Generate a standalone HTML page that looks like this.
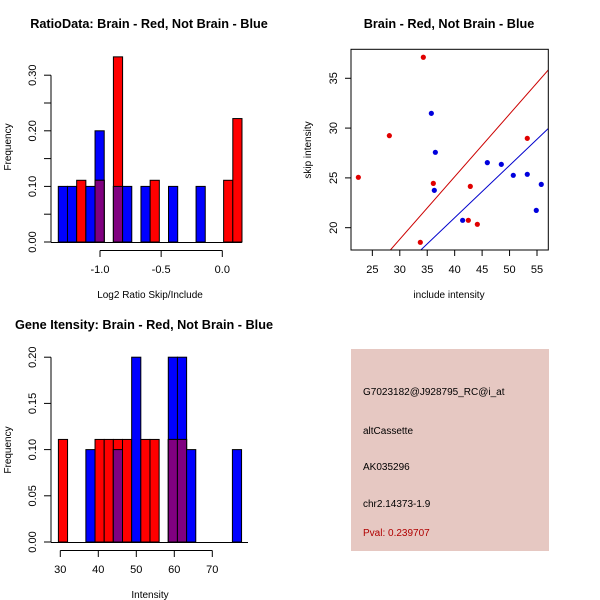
<!DOCTYPE html>
<html><head><meta charset="utf-8"><style>
body{margin:0;background:#fff}
svg{display:block;font-family:"Liberation Sans",sans-serif}
</style></head><body>
<svg id="c" width="600" height="600" xmlns="http://www.w3.org/2000/svg"></svg>
<script>
// Panel 1: ratio histogram
const ratioBinStart = -1.341, ratioBinWidth = 0.0751;
const ratioBlue = [0.1,0.1,0,0.1,0.2,0,0.1,0.1,0,0.1,0,0,0.1,0,0,0.1,0,0,0,0];
const ratioRed  = [0,0,0.111,0,0.111,0,0.333,0,0,0,0.111,0,0,0,0,0,0,0,0.111,0.222];
const ratioXTicks = [-1.0,-0.5,0.0];
const ratioXLabels = ["-1.0","-0.5","0.0"];
const ratioYTicks = [0,0.05,0.1,0.15,0.2,0.25,0.3];
const ratioYLabels = ["0.00","","0.10","","0.20","","0.30"];
// Panel 3: intensity histogram
const intBinStart = 29.5, intBinWidth = 2.41;
const intBlue = [0,0,0,0.1,0,0,0.1,0,0.2,0,0,0,0.2,0.2,0.1,0,0,0,0,0.1];
const intRed  = [0.111,0,0,0,0.111,0.111,0.111,0.111,0,0.111,0.111,0,0.111,0.111,0,0,0,0,0,0];
const intXTicks = [30,40,50,60,70];
const intYTicks = [0,0.05,0.1,0.15,0.2];
const intYLabels = ["0.00","0.05","0.10","0.15","0.20"];
// Panel 2: scatter
const redInclude = [22.45,28.1,34.29,33.74,36.11,42.85,42.49,44.13,53.23];
const redSkip    = [25.06,29.24,37.11,18.53,24.45,24.15,20.74,20.34,28.97];
const blueInclude = [35.75,36.48,36.29,41.45,45.95,48.5,50.68,53.23,55.78,54.87];
const blueSkip    = [31.48,27.57,23.75,20.74,26.53,26.36,25.26,25.36,24.35,21.74];
const redSlope = 0.628, blueSlope = 0.525;
const scXTicks = [25,30,35,40,45,50,55];
const scYTicks = [20,25,30,35];

const svg = document.getElementById('c');
const NS = 'http://www.w3.org/2000/svg';
function mk(tag, attrs, name, parent){
  const e = document.createElementNS(NS, tag);
  for (const k in attrs) e.setAttribute(k, attrs[k]);
  
  
  (parent||svg).appendChild(e); return e;
}
function txt(x,y,s,name,opts){
  opts=opts||{};
  const a={x:x,y:y,'font-size':opts.size||11,'text-anchor':opts.anchor||'middle',fill:opts.fill||'#000'};
  if(opts.bold) a['font-weight']='bold';
  if(opts.rot) a.transform='rotate(-90 '+x+' '+y+')';
  const t=mk('text',a,name); t.textContent=s; return t;
}
function hist(g, start, w, blue, red, xs, ys, prefix){
  for(let i=0;i<blue.length;i++){
    const x0=xs(start+i*w), x1=xs(start+(i+1)*w);
    const b=blue[i], r=red[i];
    if(b>0){const e=mk('rect',{x:x0,y:ys(b),width:x1-x0,height:ys(0)-ys(b),fill:'#0000ff',stroke:'#000','stroke-width':1},'bar-blue',g);}
    if(r>0){const e=mk('rect',{x:x0,y:ys(r),width:x1-x0,height:ys(0)-ys(r),fill:'#ff0000',stroke:'#000','stroke-width':1},'bar-red',g);}
    if(b>0&&r>0){const m=Math.min(b,r);const e=mk('rect',{x:x0,y:ys(m),width:x1-x0,height:ys(0)-ys(m),fill:'#800080',stroke:'#000','stroke-width':1},'bar-overlap',g);}
  }
}

// ---- Panel 1
{
  const xs=v=>100+(v+1)*122.3, ys=v=>242-v*556;
  const g=mk('g',{},'ratio-histogram');
  hist(g,ratioBinStart,ratioBinWidth,ratioBlue,ratioRed,xs,ys,'ratio');
  mk('line',{x1:51,x2:51,y1:ys(0),y2:ys(0.3),stroke:'#000'},'ratio-y-axis');
  mk('line',{x1:51,x2:xs(0.16),y1:ys(0)+0.5,y2:ys(0)+0.5,stroke:'#000'},'ratio-baseline');
  ratioYTicks.forEach((v,i)=>{mk('line',{x1:44,x2:51,y1:ys(v),y2:ys(v),stroke:'#000'},'ratio-y-tick');
    if(ratioYLabels[i]) txt(36,ys(v),ratioYLabels[i],'ratio-y-tick-label',{rot:1});});
  mk('line',{x1:xs(-1),x2:xs(0),y1:250.5,y2:250.5,stroke:'#000'},'ratio-x-axis');
  ratioXTicks.forEach((v,i)=>{mk('line',{x1:xs(v),x2:xs(v),y1:250.5,y2:257,stroke:'#000'},'ratio-x-tick');
    txt(xs(v),273,ratioXLabels[i],'ratio-x-tick-label');});
  txt(149,28,'RatioData: Brain - Red, Not Brain - Blue','ratio-title',{bold:1,size:12.7});
  txt(150,298,'Log2 Ratio Skip/Include','ratio-x-title',{size:10});
  txt(11,147,'Frequency','ratio-y-title',{size:10,rot:1});
}
// ---- Panel 2
{
  const xs=v=>351+(v-21.11)*(197.3/35.95), ys=v=>250-(v-17.76)*(200.7/20.15);
  const g=mk('g',{},'scatter-plot');
  mk('clipPath',{id:'clp'},'scatter-clip',g);
  document.getElementById('clp').appendChild(mk('rect',{x:351,y:49.3,width:197.3,height:200.7},'clip-rect',g));
  mk('line',{x1:xs(21.11),y1:ys(21.11*redSlope),x2:xs(57.06),y2:ys(57.06*redSlope),stroke:'#cc0000','clip-path':'url(#clp)'},'red-fit-line',g);
  mk('line',{x1:xs(21.11),y1:ys(21.11*blueSlope),x2:xs(57.06),y2:ys(57.06*blueSlope),stroke:'#0000cc','clip-path':'url(#clp)'},'blue-fit-line',g);
  redInclude.forEach((v,i)=>mk('circle',{cx:xs(v),cy:ys(redSkip[i]),r:2.6,fill:'#e00000'},'red-point',g));
  blueInclude.forEach((v,i)=>mk('circle',{cx:xs(v),cy:ys(blueSkip[i]),r:2.6,fill:'#0000dd'},'blue-point',g));
  mk('rect',{x:351,y:49.3,width:197.3,height:200.7,fill:'none',stroke:'#000'},'scatter-frame');
  scXTicks.forEach(v=>{mk('line',{x1:xs(v),x2:xs(v),y1:250,y2:256,stroke:'#000'},'scatter-x-tick');txt(xs(v),273,String(v),'scatter-x-tick-label');});
  scYTicks.forEach(v=>{mk('line',{x1:345,x2:351,y1:ys(v),y2:ys(v),stroke:'#000'},'scatter-y-tick');txt(337,ys(v),String(v),'scatter-y-tick-label',{rot:1});});
  txt(449,28,'Brain - Red, Not Brain - Blue','scatter-title',{bold:1,size:12.7});
  txt(449,298,'include intensity','scatter-x-title',{size:10});
  txt(311,150,'skip intensity','scatter-y-title',{size:10,rot:1});
}
// ---- Panel 3
{
  const xs=v=>60.3+(v-30)*3.8, ys=v=>542-v*924;
  const g=mk('g',{},'intensity-histogram');
  hist(g,intBinStart,intBinWidth,intBlue,intRed,xs,ys,'intensity');
  mk('line',{x1:51,x2:51,y1:ys(0),y2:ys(0.2),stroke:'#000'},'intensity-y-axis');
  mk('line',{x1:51,x2:248,y1:ys(0)+0.5,y2:ys(0)+0.5,stroke:'#000'},'intensity-baseline');
  intYTicks.forEach((v,i)=>{mk('line',{x1:44,x2:51,y1:ys(v),y2:ys(v),stroke:'#000'},'intensity-y-tick');txt(36,ys(v),intYLabels[i],'intensity-y-tick-label',{rot:1});});
  mk('line',{x1:xs(30),x2:xs(70),y1:550.5,y2:550.5,stroke:'#000'},'intensity-x-axis');
  intXTicks.forEach(v=>{mk('line',{x1:xs(v),x2:xs(v),y1:550.5,y2:557,stroke:'#000'},'intensity-x-tick');txt(xs(v),573,String(v),'intensity-x-tick-label');});
  txt(144,329,'Gene Itensity: Brain - Red, Not Brain - Blue','intensity-title',{bold:1,size:12.7});
  txt(150,598,'Intensity','intensity-x-title',{size:10});
  txt(11,450,'Frequency','intensity-y-title',{size:10,rot:1});
}
// ---- Info box
mk('rect',{x:351,y:349,width:198,height:202,fill:'#e6c8c2'},'info-box');
txt(363,395,'G7023182@J928795_RC@i_at','probe-id',{anchor:'start',size:10});
txt(363,434,'altCassette','event-type',{anchor:'start',size:10});
txt(363,470,'AK035296','accession',{anchor:'start',size:10});
txt(363,507,'chr2.14373-1.9','location',{anchor:'start',size:10});
txt(363,536,'Pval: 0.239707','pvalue',{anchor:'start',size:10,fill:'#b00000'});
</script>
</body></html>
